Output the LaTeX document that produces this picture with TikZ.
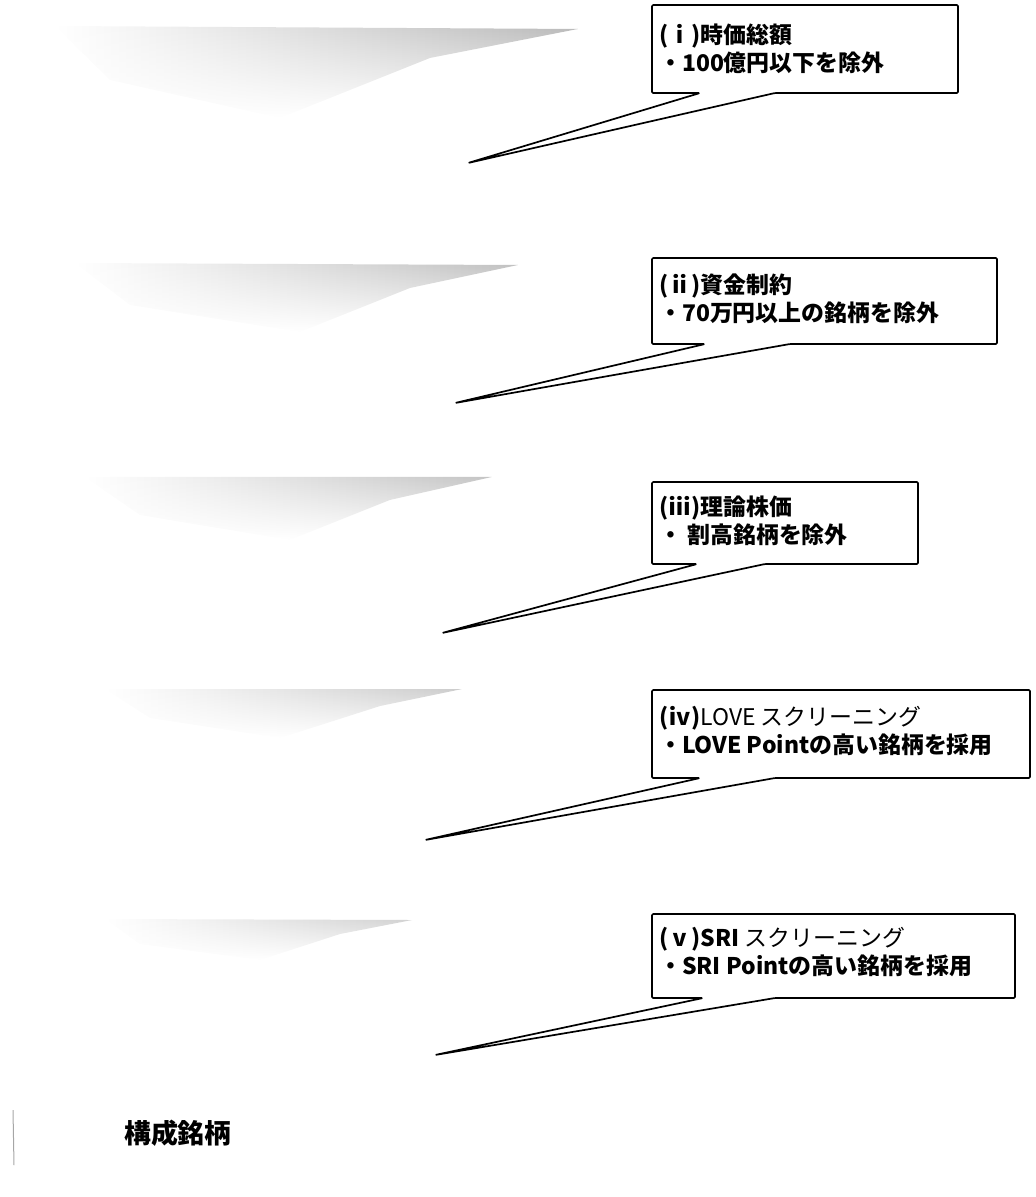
\documentclass[tikz,border=0pt]{standalone}
\usepackage{fontspec}
\usetikzlibrary{fadings}
\newfontfamily\jpfont{Noto Sans CJK JP}
\begin{document}
\begin{tikzpicture}[x=1bp,y=-1bp,
  cbox/.style={draw=none, inner sep=0pt, outer sep=0pt, anchor=north west},
  callout/.style={draw=black, line width=1.7bp, line join=round, rounded corners=1.2bp, fill=white},
  txt/.style={anchor=west, inner sep=0pt, align=left, font=\jpfont\bfseries\fontsize{23}{28}\selectfont},
  wedge/.style={draw=none, left color=white, right color=#1, path fading=south}
]
\useasboundingbox (0,0) rectangle (1036,1197);

% faded wedges (scanned background shapes)
\shade[wedge=gray!55] (55,26) -- (578,29) -- (430,58) -- (280,118) -- (110,80) -- cycle;
\shade[wedge=gray!50] (75,263) -- (518,265) -- (410,288) -- (300,332) -- (130,305) -- cycle;
\shade[wedge=gray!46] (85,477) -- (492,477) -- (390,500) -- (290,540) -- (140,515) -- cycle;
\shade[wedge=gray!40] (105,689) -- (462,689) -- (380,706) -- (280,738) -- (150,718) -- cycle;
\shade[wedge=gray!36] (105,919) -- (412,920) -- (340,934) -- (260,960) -- (140,944) -- cycle;

% callout boxes
\node[cbox, minimum width=306bp, minimum height=88bp] (c1) at (652,5) {};
\node[cbox, minimum width=345bp, minimum height=86bp] (c2) at (652,258) {};
\node[cbox, minimum width=266bp, minimum height=82bp] (c3) at (652,482) {};
\node[cbox, minimum width=378bp, minimum height=88bp] (c4) at (652,690) {};
\node[cbox, minimum width=363bp, minimum height=84bp] (c5) at (652,914) {};

\coordinate (p1) at (468,163);
\coordinate (p2) at (455,403);
\coordinate (p3) at (442,633);
\coordinate (p4) at (425,840);
\coordinate (p5) at (435,1055);

\draw[callout] ([xshift=48bp]c1.south west) -- (c1.south west) -- (c1.north west) -- (c1.north east) -- (c1.south east) -- ([xshift=123bp]c1.south west) -- (p1) -- cycle;
\draw[callout] ([xshift=53bp]c2.south west) -- (c2.south west) -- (c2.north west) -- (c2.north east) -- (c2.south east) -- ([xshift=138bp]c2.south west) -- (p2) -- cycle;
\draw[callout] ([xshift=45bp]c3.south west) -- (c3.south west) -- (c3.north west) -- (c3.north east) -- (c3.south east) -- ([xshift=113bp]c3.south west) -- (p3) -- cycle;
\draw[callout] ([xshift=48bp]c4.south west) -- (c4.south west) -- (c4.north west) -- (c4.north east) -- (c4.south east) -- ([xshift=123bp]c4.south west) -- (p4) -- cycle;
\draw[callout] ([xshift=51bp]c5.south west) -- (c5.south west) -- (c5.north west) -- (c5.north east) -- (c5.south east) -- ([xshift=123bp]c5.south west) -- (p5) -- cycle;

% texts
\node[txt] (t1) at (659,49) {(ⅰ)時価総額\\・100億円以下を除外};
\node[txt] (t2) at (659,299) {(ⅱ)資金制約\\・70万円以上の銘柄を除外};
\node[txt] (t3) at (659,521) {(ⅲ)理論株価\\・ 割高銘柄を除外};
\node[txt] (t4) at (659,731) {(ⅳ){\mdseries LOVE スクリーニング}\\・LOVE Pointの高い銘柄を採用};
\node[txt] (t5) at (659,952) {(ⅴ)SRI {\mdseries スクリーニング}\\・SRI Pointの高い銘柄を採用};

% bottom label
\draw[gray!70, line width=1bp] (13,1110) -- (14,1165);
\node[anchor=west, inner sep=0pt, font=\jpfont\bfseries\fontsize{27}{30}\selectfont] (t6) at (124,1133) {構成銘柄};
\end{tikzpicture}
\end{document}
